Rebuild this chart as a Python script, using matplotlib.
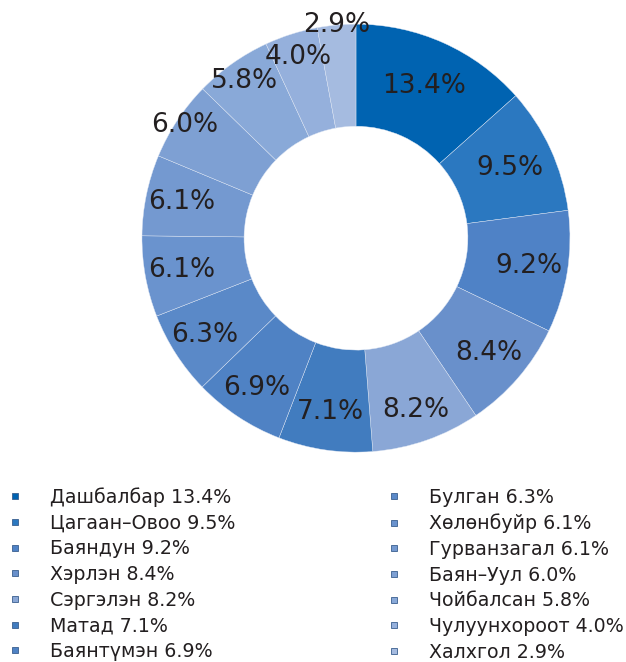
import numpy as np
import matplotlib
matplotlib.use("Agg")
import matplotlib.pyplot as plt
from matplotlib.lines import Line2D

names = ["Дашбалбар", "Цагаан–Овоо", "Баяндун", "Хэрлэн", "Сэргэлэн", "Матад", "Баянтүмэн",
         "Булган", "Хөлөнбуйр", "Гурванзагал", "Баян–Уул", "Чойбалсан", "Чулуунхороот", "Халхгол"]
shares = [13.4, 9.5, 9.2, 8.4, 8.2, 7.1, 6.9, 6.3, 6.1, 6.1, 6.0, 5.8, 4.0, 2.9]
colors = ["#0063b1", "#2b78c0", "#4f82c6", "#6990cb", "#8aa7d6", "#417cbf", "#4f82c4",
          "#5a89c8", "#6a93ce", "#7499d0", "#7ea0d3", "#89a9d8", "#95b0dc", "#a5bbe0"]

text_color = "#231f20"
plt.rcParams["font.family"] = ["DejaVu Sans"]

fig = plt.figure(figsize=(6.26, 6.62), dpi=100)
ax = fig.add_axes([0.2268, 0.317, 0.6837, 0.6465])

wedges, _ = ax.pie(shares, colors=colors, startangle=90, counterclock=False,
                   radius=1.0, wedgeprops=dict(width=0.477, edgecolor="#dfe7f4", linewidth=0.3))
ax.set_xlim(-1, 1)
ax.set_ylim(-1, 1)
ax.set_aspect("equal")
ax.axis("off")

# label radius, the small slices at the top get pushed out a bit
label_r = [0.78, 0.79, 0.82, 0.82, 0.85, 0.82, 0.84, 0.84, 0.83, 0.83, 0.96, 0.90, 0.89, 1.0]
for w, val, r in zip(wedges, shares, label_r):
    ang = np.deg2rad((w.theta1 + w.theta2) / 2)
    ax.text(r * np.cos(ang), r * np.sin(ang), "%.1f%%" % val, ha="center", va="center",
            fontsize=19, color=text_color)

handles = [Line2D([], [], linestyle="none", marker="s", markersize=5,
                  markerfacecolor=c, markeredgecolor="#3a5f8f", markeredgewidth=0.6)
           for c in colors]
labels = ["%s %.1f%%" % (n, v) for n, v in zip(names, shares)]
fig.legend(handles, labels, ncol=2, loc="upper left", bbox_to_anchor=(-0.009, 0.281),
           frameon=False, fontsize=13.7, handlelength=1.0, handletextpad=1.35,
           columnspacing=7.8, labelspacing=0.35, borderaxespad=0.2, labelcolor=text_color)

fig.savefig("out.png", dpi=100)
